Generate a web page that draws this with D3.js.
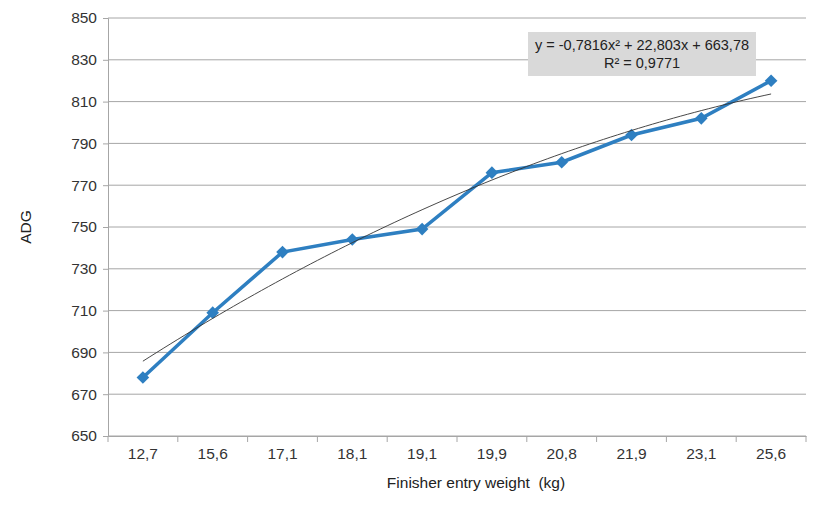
<!DOCTYPE html>
<html><head><meta charset="utf-8">
<script src="https://cdn.jsdelivr.net/npm/d3@7"></script>
<style>body{margin:0;background:#fff}svg{font-family:Arial,"Liberation Sans",sans-serif}</style>
</head><body><svg id="c" width="820" height="521"></svg>
<script>
// --- data ---
const weights = ["12,7", "15,6", "17,1", "18,1", "19,1", "19,9", "20,8", "21,9", "23,1", "25,6"];
const adg = [678, 709, 738, 744, 749, 776, 781, 794, 802, 820];
const yTicks = [650, 670, 690, 710, 730, 750, 770, 790, 810, 830, 850];
const trendCoef = [-0.7816, 22.803, 663.78]; // shown equation, x = 1..10
const eqLines = ["y = -0,7816x² + 22,803x + 663,78", "R² = 0,9771"];

const svg = d3.select("#c");
const m = { left: 108, right: 806, top: 18, bottom: 436 };

const x = d3.scaleBand().domain(weights).range([m.left, m.right]);
const y = d3.scaleLinear().domain([650, 850]).range([m.bottom, m.top]);

// grid
svg.append("g").selectAll("line").data(yTicks).join("line")
    .attr("x1", m.left).attr("x2", m.right)
    .attr("y1", (d) => y(d)).attr("y2", (d) => y(d))
    .attr("stroke", "#a6a6a6").attr("stroke-width", 1);

// y axis
const ya = svg.append("g").attr("transform", `translate(${m.left},0)`)
    .call(d3.axisLeft(y).tickValues(yTicks).tickSize(5).tickPadding(6));
ya.select(".domain").attr("stroke", "#a6a6a6");
ya.selectAll(".tick line").attr("stroke", "#a6a6a6");
ya.selectAll("text").attr("font-size", 15.5).attr("fill", "#333");

// x axis
const xa = svg.append("g").attr("transform", `translate(0,${m.bottom})`)
    .call(d3.axisBottom(x).tickSize(0).tickPadding(12));
xa.select(".domain").attr("stroke", "#a6a6a6");
xa.selectAll("text").attr("font-size", 15.5).attr("fill", "#333");
xa.selectAll(".bt").data(d3.range(weights.length + 1)).join("line")
    .attr("x1", (i) => m.left + i * x.step()).attr("x2", (i) => m.left + i * x.step())
    .attr("y1", 0).attr("y2", 6).attr("stroke", "#a6a6a6");

const cx = (d, i) => x(weights[i]) + x.bandwidth() / 2;

// series
svg.append("path").datum(adg)
    .attr("d", d3.line().x(cx).y((d) => y(d)))
    .attr("fill", "none").attr("stroke", "#2e7fc1").attr("stroke-width", 3.5);
svg.append("g").selectAll("path").data(adg).join("path")
    .attr("d", d3.symbol(d3.symbolSquare, 80))
    .attr("transform", (d, i) => `translate(${cx(d, i)},${y(d)}) rotate(45)`)
    .attr("fill", "#2e7fc1");

// trend line
const trend = d3.range(0, 91).map((k) => 1 + k / 10).map((t) => [t, trendCoef[0] * t * t + trendCoef[1] * t + trendCoef[2]]);
const tx = d3.scaleLinear().domain([1, weights.length]).range([cx(0, 0), cx(0, weights.length - 1)]);
svg.append("path").datum(trend)
    .attr("d", d3.line().x((d) => tx(d[0])).y((d) => y(d[1])))
    .attr("fill", "none").attr("stroke", "#333").attr("stroke-width", 0.9);

// equation box
svg.append("rect").attr("x", 528).attr("y", 32).attr("width", 228).attr("height", 44).attr("fill", "#d9d9d9");
svg.append("g").selectAll("text").data(eqLines).join("text")
    .attr("x", 642).attr("y", (d, i) => 50 + i * 18).attr("text-anchor", "middle")
    .attr("font-size", 14.5).attr("fill", "#222").text((d) => d);

// titles
svg.append("text").attr("transform", "translate(31,227) rotate(-90)").attr("text-anchor", "middle")
    .attr("font-size", 15.5).attr("fill", "#222").text("ADG");
svg.append("text").attr("x", 476).attr("y", 488).attr("text-anchor", "middle")
    .attr("font-size", 15.5).attr("fill", "#222").text("Finisher entry weight\u00a0 (kg)");
</script></body></html>
